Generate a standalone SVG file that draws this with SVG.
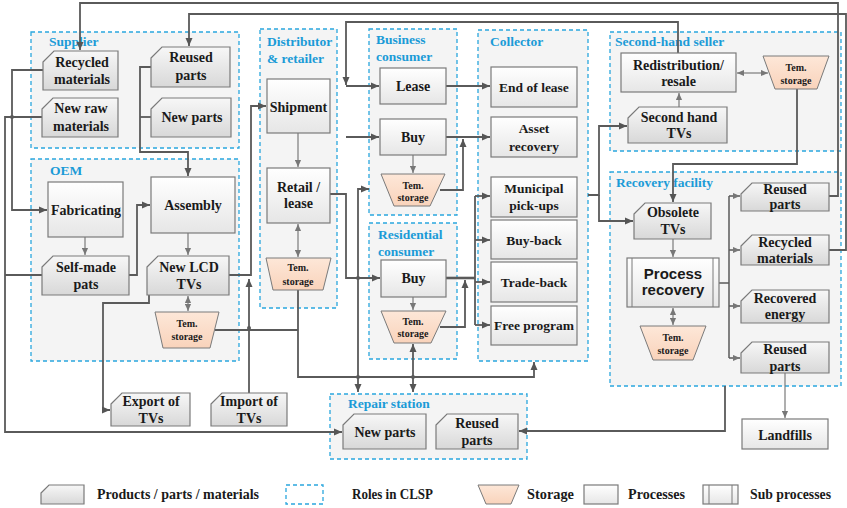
<svg xmlns="http://www.w3.org/2000/svg" width="847" height="508" viewBox="0 0 847 508">
<defs>
<linearGradient id="gP" x1="0" y1="0" x2="0" y2="1"><stop offset="0" stop-color="#f7f7f7"/><stop offset="1" stop-color="#d8d8d8"/></linearGradient>
<linearGradient id="gR" x1="0" y1="0" x2="0" y2="1"><stop offset="0" stop-color="#ffffff"/><stop offset="1" stop-color="#e6e6e6"/></linearGradient>
<linearGradient id="gS" x1="0" y1="0" x2="0" y2="1"><stop offset="0" stop-color="#fde7d8"/><stop offset="1" stop-color="#f9d3bb"/></linearGradient>
<marker id="a" markerUnits="userSpaceOnUse" markerWidth="8" markerHeight="8" viewBox="0 0 8 8" refX="8" refY="4" orient="auto-start-reverse"><path d="M0,0.5 L8,4 L0,7.5 Z" fill="#555"/></marker>
<marker id="al" markerUnits="userSpaceOnUse" markerWidth="7" markerHeight="7" viewBox="0 0 8 8" refX="8" refY="4" orient="auto-start-reverse"><path d="M0,0.5 L8,4 L0,7.5 Z" fill="#777"/></marker>
</defs>
<style>
.role{fill:#f4f4f4;stroke:#2aa7de;stroke-width:1.3;stroke-dasharray:4 3}
.rl{font-family:"Liberation Serif",serif;font-weight:bold;font-size:13.5px;fill:#1b9bd7}
.p{fill:url(#gP);stroke:#7a7a7a;stroke-width:1.2}
.r{fill:url(#gR);stroke:#7a7a7a;stroke-width:1.2}
.s{fill:url(#gS);stroke:#7a7a7a;stroke-width:1}
.t{font-family:"Liberation Serif",serif;font-weight:bold;font-size:14px;fill:#1a1a1a;text-anchor:middle}
.tc{font-family:"Liberation Serif",serif;font-weight:bold;font-size:13.5px;fill:#1a1a1a;text-anchor:middle}
.ts{font-family:"Liberation Serif",serif;font-weight:bold;font-size:10px;fill:#1a1a1a;text-anchor:middle}
.tsans{font-family:"Liberation Sans",Arial,sans-serif;font-weight:bold;font-size:15px;fill:#1a1a1a;text-anchor:middle}
.lg{font-family:"Liberation Serif",serif;font-weight:bold;font-size:14px;fill:#1a1a1a}
.c{fill:none;stroke:#5a5a5a;stroke-width:1.8}
.cl{fill:none;stroke:#7a7a7a;stroke-width:1.2}
.dot{fill:#5a5a5a}
</style>

<!-- roles -->
<g id="roles">
<rect class="role" x="31" y="32" width="208" height="116"/>
<rect class="role" x="31" y="159" width="208" height="202"/>
<rect class="role" x="260" y="29" width="77" height="279"/>
<rect class="role" x="369" y="29" width="88" height="186"/>
<rect class="role" x="369" y="223" width="88" height="136"/>
<rect class="role" x="478" y="30" width="110" height="331"/>
<rect class="role" x="610" y="32" width="231" height="119"/>
<rect class="role" x="610" y="172" width="231" height="214"/>
<rect class="role" x="330" y="394" width="197" height="65"/>
<text class="rl" x="49" y="46">Supplier</text>
<text class="rl" x="50" y="175">OEM</text>
<text class="rl" x="267" y="46">Distributor</text>
<text class="rl" x="267" y="63">&amp; retailer</text>
<text class="rl" x="376" y="44">Business</text>
<text class="rl" x="376" y="61">consumer</text>
<text class="rl" x="378" y="239">Residential</text>
<text class="rl" x="378" y="256">consumer</text>
<text class="rl" x="490" y="46">Collector</text>
<text class="rl" x="615" y="46">Second-hand seller</text>
<text class="rl" x="616" y="187">Recovery facility</text>
<text class="rl" x="348" y="408">Repair station</text>
</g>

<!-- connectors -->
<g id="connectors">
<path class="c" d="M829,196 H838 V3 H80 V50" marker-end="url(#a)"/>
<path class="c" d="M829,250 H846 V14 H189 V46" marker-end="url(#a)"/>
<path class="c" d="M678,53 V22 H346 V85" marker-end="url(#a)"/>
<path class="c" d="M330,194 H346 V278 H380" marker-end="url(#a)"/>
<path class="c" d="M346,86 H379" marker-end="url(#a)"/>
<path class="c" d="M346,137 H379" marker-end="url(#a)"/>
<path class="c" d="M446,86 H490" marker-end="url(#a)"/>
<path class="c" d="M446,137 H490" marker-end="url(#a)"/>
<path class="c" d="M440,190 H463 V139" marker-end="url(#a)"/>
<path class="cl" d="M413,155 V173" marker-end="url(#al)"/>
<path class="cl" d="M413,297 V310" marker-end="url(#al)"/>
<path class="c" d="M446,278 H475" style="stroke-width:2.6"/>
<path class="c" d="M475,196 V325"/>
<path class="c" d="M475,196 H490" marker-end="url(#a)"/>
<path class="c" d="M475,240 H490" marker-end="url(#a)"/>
<path class="c" d="M475,282 H490" marker-end="url(#a)"/>
<path class="c" d="M475,325 H490" marker-end="url(#a)"/>
<path class="c" d="M440,327 H465 V280" marker-end="url(#a)"/>
<path class="c" d="M413,344 V392" marker-start="url(#a)" marker-end="url(#a)"/>
<path class="c" d="M369,189 H358 V392" marker-start="url(#a)" marker-end="url(#a)"/>
<path class="c" d="M298,290 V377 H534 V362" marker-end="url(#a)"/>
<path class="c" d="M215,330 H298"/>
<path class="c" d="M249,393 V279" marker-end="url(#a)"/>
<path class="c" d="M229,275 H251 V106 H266" marker-end="url(#a)"/>
<path class="cl" d="M298,133 V167" marker-end="url(#al)"/>
<path class="cl" d="M298,224 V257" marker-start="url(#al)" marker-end="url(#al)"/>
<path class="c" d="M149,295 V303 H103 V410 H110" marker-end="url(#a)"/>
<path class="cl" d="M188,296 V311" marker-start="url(#al)" marker-end="url(#al)"/>
<path class="cl" d="M188,233 V255" marker-end="url(#al)"/>
<path class="cl" d="M85,237 V255" marker-end="url(#al)"/>
<path class="c" d="M129,275 H137 V205 H150" marker-end="url(#a)"/>
<path class="c" d="M151,67 H140 V152 H188 V176" marker-end="url(#a)"/>
<path class="c" d="M151,117 H140"/>
<path class="c" d="M43,70 H12 V210 H47" marker-end="url(#a)"/>
<path class="c" d="M42,117 H5 V432 H342" marker-end="url(#a)"/>
<path class="c" d="M42,275 H5"/>
<path class="c" d="M588,195 H599 V126 H627" marker-end="url(#a)"/>
<path class="c" d="M599,195 V221 H633" marker-end="url(#a)"/>
<path class="cl" d="M679,107 V93" marker-end="url(#al)"/>
<path class="cl" d="M737,73 H768" marker-start="url(#al)" marker-end="url(#al)"/>
<path class="c" d="M797,89 V164 H673 V202" marker-end="url(#a)"/>
<path class="cl" d="M673,239 V257" marker-end="url(#al)"/>
<path class="cl" d="M673,308 V325" marker-start="url(#al)" marker-end="url(#al)"/>
<path class="c" d="M719,283 H729" style="stroke-width:1.5"/>
<path class="c" d="M729,196 V358" style="stroke-width:1.5"/>
<path class="c" d="M729,196 H740" style="stroke-width:1.5" marker-end="url(#al)"/>
<path class="c" d="M729,250 H740" style="stroke-width:1.5" marker-end="url(#al)"/>
<path class="c" d="M729,306 H740" style="stroke-width:1.5" marker-end="url(#al)"/>
<path class="c" d="M729,358 H740" style="stroke-width:1.5" marker-end="url(#al)"/>
<path class="cl" d="M785,373 V418" marker-end="url(#al)"/>
<path class="c" d="M725,386 V431 H519" marker-end="url(#a)"/>
<circle class="dot" cx="12" cy="117" r="2"/>
<circle class="dot" cx="249" cy="328" r="2"/>
<circle class="dot" cx="358" cy="278" r="2"/>
<circle class="dot" cx="358" cy="377" r="2"/>
<circle class="dot" cx="413" cy="377" r="2"/>
</g>

<!-- Supplier -->
<g id="sup-recycled"><path class="p" d="M43,62 L54,51 L118,51 L118,90 L43,90 Z"/><text class="t" x="82" y="67">Recycled</text><text class="t" x="82" y="84">materials</text></g>
<g id="sup-newraw"><path class="p" d="M42,109 L53,98 L118,98 L118,137 L42,137 Z"/><text class="t" x="81" y="113">New raw</text><text class="t" x="81" y="131">materials</text></g>
<g id="sup-reused"><path class="p" d="M151,58 L162,47 L230,47 L230,87 L151,87 Z"/><text class="t" x="191" y="62">Reused</text><text class="t" x="191" y="80">parts</text></g>
<g id="sup-newparts"><path class="p" d="M151,109 L162,98 L231,98 L231,137 L151,137 Z"/><text class="t" x="192" y="122">New parts</text></g>

<!-- OEM -->
<g id="oem-fab"><rect class="r" x="48" y="182" width="75" height="55"/><text class="t" x="86" y="215">Fabricating</text></g>
<g id="oem-asm"><rect class="r" x="151" y="177" width="84" height="56"/><text class="t" x="193" y="210">Assembly</text></g>
<g id="oem-selfmade"><path class="p" d="M42,267 L53,256 L129,256 L129,295 L42,295 Z"/><text class="t" x="86" y="272">Self-made</text><text class="t" x="86" y="289">pats</text></g>
<g id="oem-lcd"><path class="p" d="M147,267 L158,256 L229,256 L229,295 L147,295 Z"/><text class="t" x="189" y="272">New LCD</text><text class="t" x="189" y="289">TVs</text></g>
<g id="oem-storage"><path class="s" d="M155,312 L219,312 L210,348 L163,348 Z"/><text class="ts" x="187" y="327">Tem.</text><text class="ts" x="187" y="340">storage</text></g>

<!-- Distributor -->
<g id="dist-ship"><rect class="r" x="267" y="79" width="63" height="54"/><text class="t" x="298.5" y="112">Shipment</text></g>
<g id="dist-retail"><rect class="r" x="267" y="168" width="63" height="55"/><text class="t" x="298.5" y="192">Retail /</text><text class="t" x="298.5" y="208">lease</text></g>
<g id="dist-storage"><path class="s" d="M266,258 L331,258 L323,290 L273,290 Z"/><text class="ts" x="298" y="271">Tem.</text><text class="ts" x="298" y="285">storage</text></g>

<!-- Business consumer -->
<g id="bus-lease"><rect class="r" x="380" y="68" width="66" height="36"/><text class="t" x="413" y="91">Lease</text></g>
<g id="bus-buy"><rect class="r" x="380" y="119" width="66" height="36"/><text class="t" x="413" y="142">Buy</text></g>
<g id="bus-storage"><path class="s" d="M381,174 L445,174 L430,206 L394,206 Z"/><text class="ts" x="413" y="189">Tem.</text><text class="ts" x="413" y="201">storage</text></g>

<!-- Residential consumer -->
<g id="res-buy"><rect class="r" x="381" y="260" width="65" height="37"/><text class="t" x="413.5" y="283">Buy</text></g>
<g id="res-storage"><path class="s" d="M381,311 L446,311 L431,343 L394,343 Z"/><text class="ts" x="413" y="325">Tem.</text><text class="ts" x="413" y="337">storage</text></g>

<!-- Collector -->
<g id="col-eol"><rect class="r" x="491" y="67" width="86" height="40"/><text class="tc" x="534" y="92">End of lease</text></g>
<g id="col-asset"><rect class="r" x="491" y="117" width="86" height="40"/><text class="tc" x="534" y="133">Asset</text><text class="tc" x="534" y="151">recovery</text></g>
<g id="col-muni"><rect class="r" x="491" y="177" width="86" height="40"/><text class="tc" x="534" y="193">Municipal</text><text class="tc" x="534" y="210">pick-ups</text></g>
<g id="col-buyback"><rect class="r" x="491" y="220" width="86" height="39"/><text class="tc" x="534" y="245">Buy-back</text></g>
<g id="col-trade"><rect class="r" x="491" y="262" width="86" height="40"/><text class="tc" x="534" y="287">Trade-back</text></g>
<g id="col-free"><rect class="r" x="491" y="306" width="86" height="39"/><text class="tc" x="534" y="330">Free program</text></g>

<!-- Second-hand seller -->
<g id="sh-redist"><rect class="r" x="621" y="53" width="115" height="39"/><text class="t" x="678.5" y="70">Redistribution/</text><text class="t" x="678.5" y="86">resale</text></g>
<g id="sh-storage"><path class="s" d="M763,56 L829,56 L817,89 L775,89 Z"/><text class="ts" x="796" y="71">Tem.</text><text class="ts" x="796" y="84">storage</text></g>
<g id="sh-tvs"><path class="p" d="M628,118 L639,107 L727,107 L727,143 L628,143 Z"/><text class="t" x="679" y="122">Second hand</text><text class="t" x="679" y="138">TVs</text></g>

<!-- Recovery facility -->
<g id="rf-obsolete"><path class="p" d="M634,214 L645,203 L711,203 L711,239 L634,239 Z"/><text class="t" x="673" y="217">Obsolete</text><text class="t" x="673" y="234">TVs</text></g>
<g id="rf-process"><rect class="r" x="627" y="258" width="92" height="49"/><line x1="632" y1="258" x2="632" y2="307" stroke="#7a7a7a" stroke-width="1"/><line x1="713" y1="258" x2="713" y2="307" stroke="#7a7a7a" stroke-width="1"/><text class="tsans" x="673" y="279">Process</text><text class="tsans" x="673" y="295">recovery</text></g>
<g id="rf-storage"><path class="s" d="M640,326 L706,326 L693,360 L653,360 Z"/><text class="ts" x="673" y="341">Tem.</text><text class="ts" x="673" y="354">storage</text></g>
<g id="rf-reused1"><path class="p" d="M741,194 L752,183 L829,183 L829,211 L741,211 Z"/><text class="t" x="785" y="194">Reused</text><text class="t" x="785" y="209">parts</text></g>
<g id="rf-recycled"><path class="p" d="M741,246 L752,235 L829,235 L829,265 L741,265 Z"/><text class="t" x="785" y="247">Recycled</text><text class="t" x="785" y="263">materials</text></g>
<g id="rf-energy"><path class="p" d="M741,301 L752,290 L829,290 L829,323 L741,323 Z"/><text class="t" x="785" y="303">Recovered</text><text class="t" x="785" y="319">energy</text></g>
<g id="rf-reused2"><path class="p" d="M741,353 L752,342 L829,342 L829,373 L741,373 Z"/><text class="t" x="785" y="354">Reused</text><text class="t" x="785" y="371">parts</text></g>
<g id="landfills"><rect class="r" x="742" y="419" width="86" height="30"/><text class="t" x="785" y="440">Landfills</text></g>

<!-- Export / Import -->
<g id="export"><path class="p" d="M111,404 L122,393 L190,393 L190,426 L111,426 Z"/><text class="t" x="151" y="406">Export of</text><text class="t" x="151" y="423">TVs</text></g>
<g id="import"><path class="p" d="M211,404 L222,393 L287,393 L287,426 L211,426 Z"/><text class="t" x="249" y="406">Import of</text><text class="t" x="249" y="423">TVs</text></g>

<!-- Repair station -->
<g id="rep-new"><path class="p" d="M343,425 L354,414 L426,414 L426,449 L343,449 Z"/><text class="t" x="385" y="437">New parts</text></g>
<g id="rep-reused"><path class="p" d="M436,425 L447,414 L518,414 L518,449 L436,449 Z"/><text class="t" x="477" y="428">Reused</text><text class="t" x="477" y="445">parts</text></g>

<!-- Legend -->
<g id="legend">
<path class="p" d="M41,493 L49,485 L84,485 L84,504 L41,504 Z"/>
<text class="lg" x="97" y="499" textLength="162" lengthAdjust="spacingAndGlyphs">Products / parts / materials</text>
<rect class="role" x="286" y="485" width="37" height="19" style="fill:#ffffff"/>
<text class="lg" x="352" y="499" textLength="81" lengthAdjust="spacingAndGlyphs">Roles in CLSP</text>
<path class="s" d="M478,485 L519,485 L511,504 L486,504 Z"/>
<text class="lg" x="527" y="499" textLength="47" lengthAdjust="spacingAndGlyphs">Storage</text>
<rect class="r" x="584" y="485" width="34" height="19"/>
<text class="lg" x="628" y="499" textLength="57" lengthAdjust="spacingAndGlyphs">Processes</text>
<rect class="r" x="703" y="485" width="35" height="19"/>
<line x1="709" y1="485" x2="709" y2="504" stroke="#7a7a7a" stroke-width="1"/>
<line x1="732" y1="485" x2="732" y2="504" stroke="#7a7a7a" stroke-width="1"/>
<text class="lg" x="750" y="499" textLength="81" lengthAdjust="spacingAndGlyphs">Sub processes</text>
</g>
</svg>
